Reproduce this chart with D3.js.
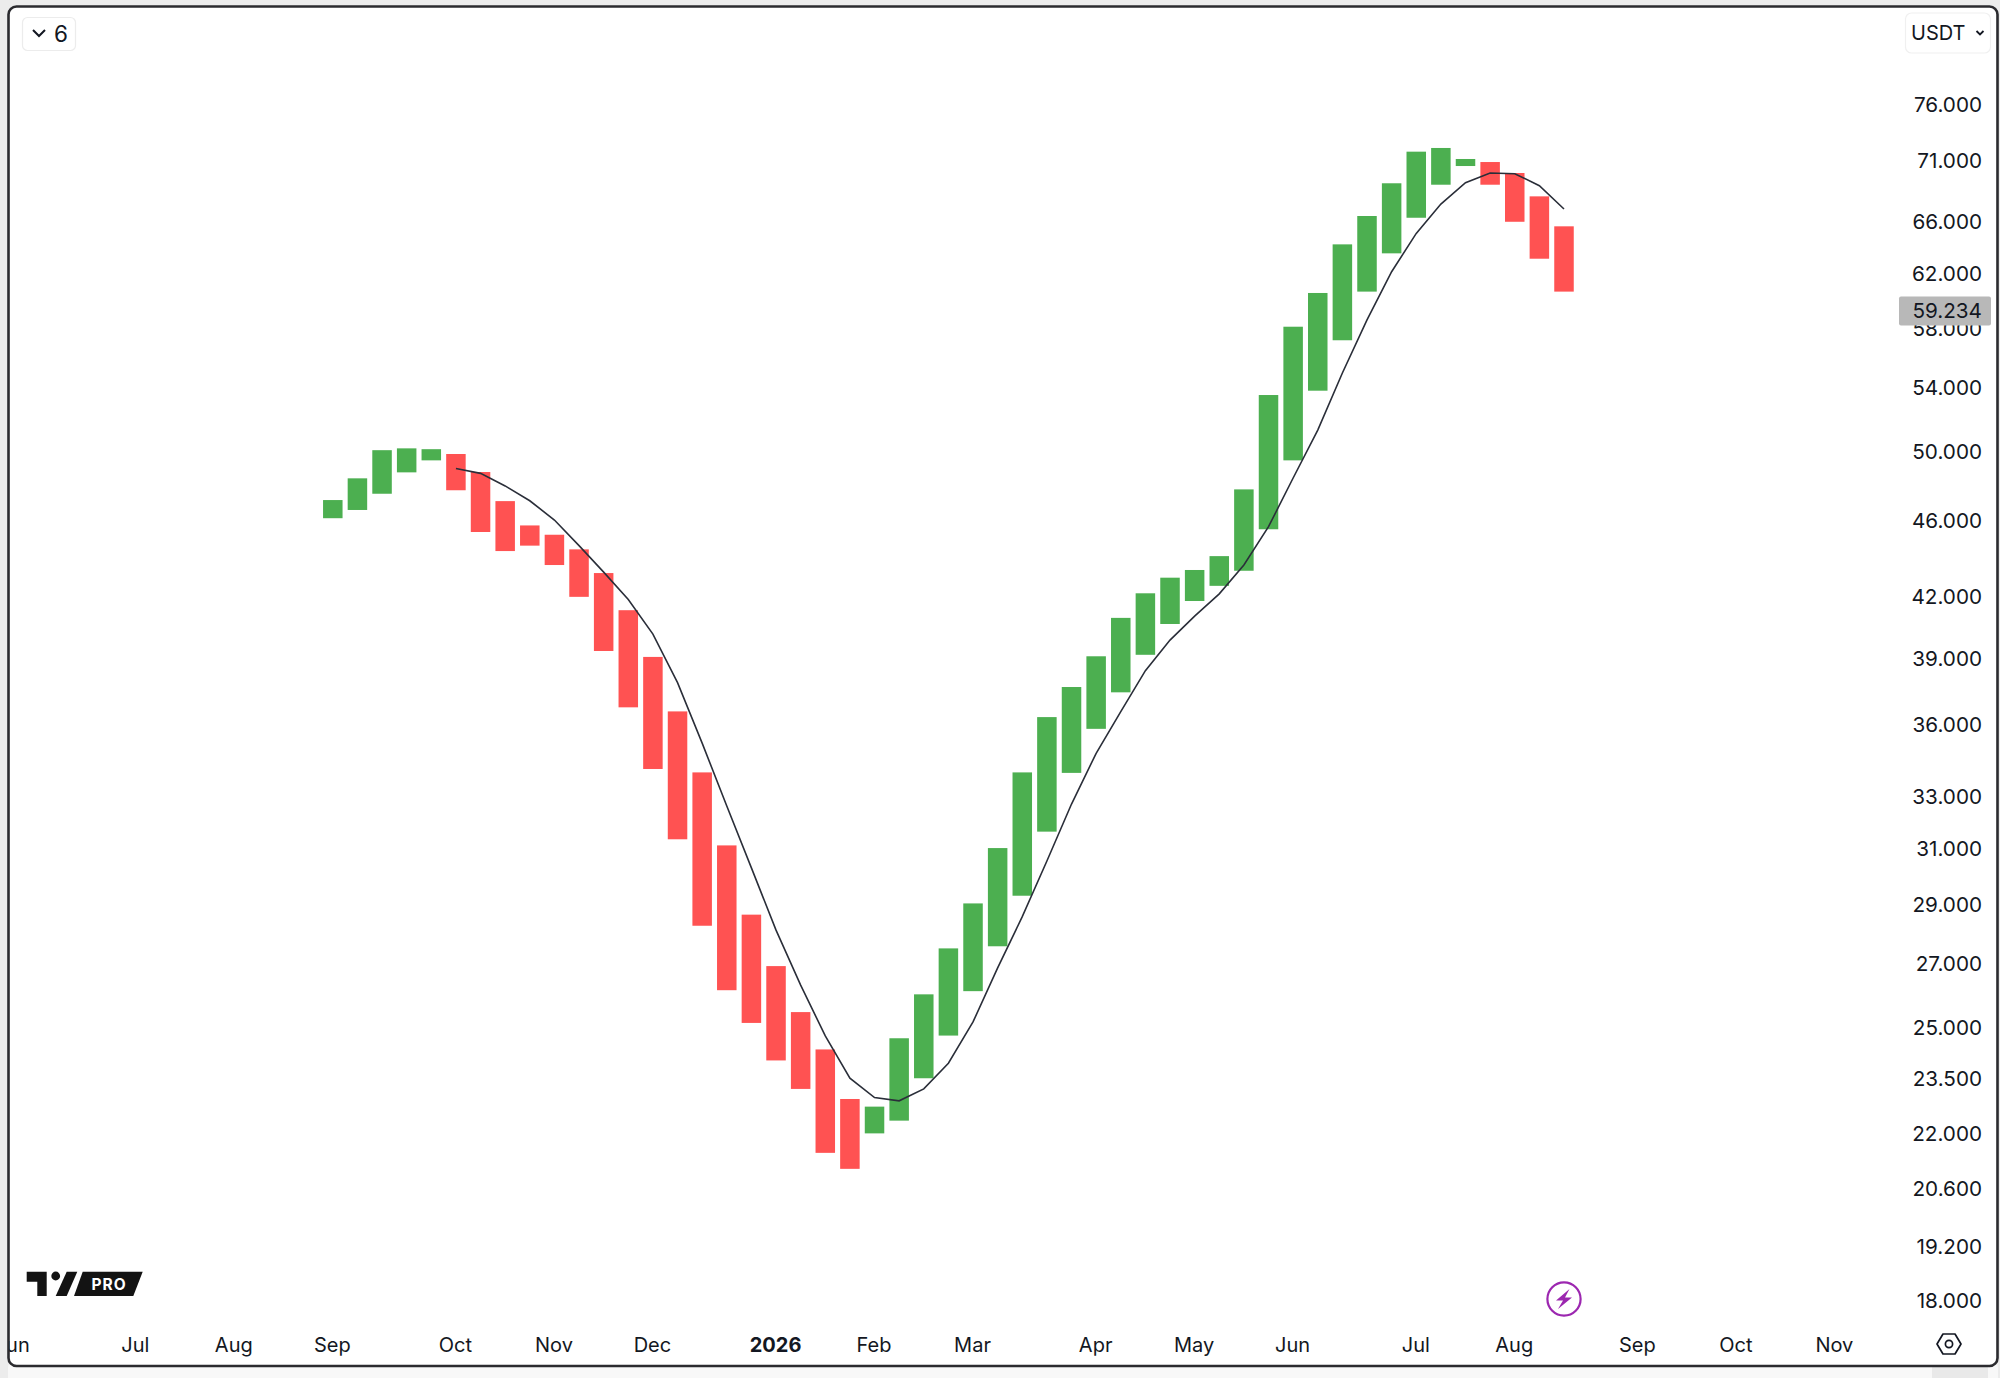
<!DOCTYPE html>
<html>
<head>
<meta charset="utf-8">
<title>Weekly chart</title>
<script src="https://cdn.jsdelivr.net/npm/d3@7/dist/d3.min.js"></script>
<style>
  html, body { margin: 0; padding: 0; background: #ececec; }
  svg { display: block; }
  text { font-family: Inter, "Noto Sans", sans-serif; fill: #131722; }
</style>
</head>
<body>
<div id="chart"></div>
<script>
// weekly bars, values
const firstWeek = "2025-09-01"
const lastWeek = "2026-08-17"

const opens = [
  46150, 46610, 47530, 48770, 49480, 49860, 48790, 47110, 45750, 45240,
  44450, 43200, 41310, 39050, 36570, 33980, 31120, 28630, 26910, 25460,
  24340, 22930, 22000, 22340, 23510, 24750, 26110, 27560, 29290, 31640,
  33960, 35810, 37420, 39150, 40630, 41770, 42540, 43320, 45540, 49480,
  53810, 57180, 60630, 63490, 66270, 68960, 70530, 70870, 69940, 68000,
  65590
]
const closes = [
  47170, 48420, 50090, 50200, 50150, 47730, 45390, 44360, 44650, 43620,
  41980, 39330, 36750, 34120, 31350, 28250, 26140, 25130, 24020, 23210,
  21490, 21080, 22720, 24670, 26010, 27490, 29020, 31020, 33980, 36320,
  37660, 39080, 40930, 42160, 42960, 43360, 44090, 47780, 53530, 58120,
  60530, 64180, 66410, 69080, 71760, 72080, 71130, 68960, 65950, 63080,
  60630
]
const maValues = [
  null, null, null, null, null, 49000, 48710, 47980, 47130, 46050,
  44650, 43250, 41850, 40140, 37860, 35200, 32630, 30290, 28100, 26300,
  24740, 23510, 22970, 22880, 23210, 23940, 25160, 26850, 28560, 30540,
  32710, 34770, 36560, 38410, 39850, 41020, 42130, 43620, 45680, 48440,
  51320, 54970, 58600, 62100, 65030, 67370, 69130, 69940, 69880, 68880,
  66970
]

const priceTicks = [
  76000, 71000, 66000, 62000, 58000, 54000, 50000, 46000, 42000, 39000, 36000,
  33000, 31000, 29000, 27000, 25000, 23500, 22000, 20600, 19200, 18000
]
const lastPrice = 59234

const monthDates = [
  "2025-06-02", "2025-07-07", "2025-08-04", "2025-09-01", "2025-10-06", "2025-11-03",
  "2025-12-01", "2026-01-05", "2026-02-02", "2026-03-02", "2026-04-06", "2026-05-04",
  "2026-06-01", "2026-07-06", "2026-08-03", "2026-09-07", "2026-10-05", "2026-11-02"
]
const monthLabels = [
  "Jun", "Jul", "Aug", "Sep", "Oct", "Nov", "Dec", "2026", "Feb", "Mar", "Apr", "May",
  "Jun", "Jul", "Aug", "Sep", "Oct", "Nov"
]

const upColor = "#4caf50"
const downColor = "#ff5252"
const ink = "#131722"

const width = 2000
const height = 1378
const barWidth = 19.5
const priceFontSize = 20.7

const parseDay = d3.utcParse("%Y-%m-%d")
const weeks = d3.utcMonday.range(parseDay(firstWeek), d3.utcDay.offset(parseDay(lastWeek), 1))
const ticksAsDates = monthDates.map(parseDay)

const x = d3.scaleUtc().domain([parseDay(firstWeek), parseDay(lastWeek)]).range([332.8, 1564])
const y = d3.scaleLog().domain([76000, 18000]).range([104, 1300])

const dotted = d3.formatLocale({ decimal: ",", thousands: ".", grouping: [3], currency: ["", ""] })
const priceFormat = dotted.format(",d")

const svg = d3
  .select("#chart")
  .append("svg")
  .attr("width", width)
  .attr("height", height)

svg.append("defs")
  .append("clipPath")
  .attr("id", "frame-clip")
  .append("rect")
  .attr("x", 8.5)
  .attr("y", 6)
  .attr("width", 1989)
  .attr("height", 1360)
  .attr("rx", 8)

// strip under the frame
svg.append("rect").attr("x", 8).attr("y", 1360).attr("width", 1990).attr("height", 30).attr("rx", 8).attr("fill", "#f8f8f8")
svg.append("rect").attr("x", 1932).attr("y", 1360).attr("width", 56).attr("height", 30).attr("rx", 8).attr("fill", "#e9e9e9")

svg.append("rect")
  .attr("x", 8.5)
  .attr("y", 6.5)
  .attr("width", 1989)
  .attr("height", 1359.5)
  .attr("rx", 8)
  .attr("fill", "#fff")

const plot = svg.append("g").attr("clip-path", "url(#frame-clip)")

plot.append("g")
  .attr("class", "bars")
  .selectAll("rect")
  .data(weeks)
  .join("rect")
  .attr("x", d => x(d) - barWidth / 2)
  .attr("y", (d, i) => y(Math.max(opens[i], closes[i])))
  .attr("width", barWidth)
  .attr("height", (d, i) => Math.abs(y(opens[i]) - y(closes[i])))
  .attr("fill", (d, i) => (closes[i] >= opens[i] ? upColor : downColor))

const maLine = d3.line()
  .defined((d, i) => maValues[i] !== null)
  .x(d => x(d))
  .y((d, i) => y(maValues[i]))

plot.append("path")
  .attr("d", maLine(weeks))
  .attr("fill", "none")
  .attr("stroke", "#2a2e39")
  .attr("stroke-width", 1.6)

// price axis
const priceAxis = plot.append("g")
  .attr("transform", "translate(1982,0)")
  .call(d3.axisLeft(y).tickValues(priceTicks).tickFormat(priceFormat).tickSize(0).tickPadding(0))
priceAxis.select(".domain").remove()
priceAxis.selectAll("text")
  .attr("font-size", priceFontSize)
  .attr("dy", "0.34em")
  .style("font-family", "Inter, sans-serif")
  .style("fill", ink)

// last price tag
const tag = plot.append("g")
tag.append("rect")
  .attr("x", 1899)
  .attr("y", y(lastPrice) - 14.5)
  .attr("width", 92)
  .attr("height", 29)
  .attr("rx", 2)
  .attr("fill", "#b8b8b8")
tag.append("text")
  .attr("x", 1982)
  .attr("y", y(lastPrice))
  .attr("dy", "0.34em")
  .attr("text-anchor", "end")
  .attr("font-size", priceFontSize)
  .text(priceFormat(lastPrice))

// time axis
const timeAxis = plot.append("g")
  .attr("transform", "translate(-1,1345)")
  .call(d3.axisBottom(x).tickValues(ticksAsDates).tickFormat((d, i) => monthLabels[i]).tickSize(0).tickPadding(0))
timeAxis.select(".domain").remove()
timeAxis.selectAll("text")
  .attr("font-size", 20)
  .attr("y", 0)
  .attr("dy", "0.36em")
  .attr("font-weight", (d, i) => (monthLabels[i] === "2026" ? 700 : 400))
  .style("font-family", "Inter, sans-serif")
  .style("fill", ink)

// frame goes on top of the clipped labels
svg.append("rect")
  .attr("x", 8.5)
  .attr("y", 6.5)
  .attr("width", 1989)
  .attr("height", 1359.5)
  .attr("rx", 8)
  .attr("fill", "none")
  .attr("stroke", "#2b2b2f")
  .attr("stroke-width", 2.6)

// interval button
const intervalBtn = svg.append("g")
intervalBtn.append("rect")
  .attr("x", 22.5).attr("y", 17.5).attr("width", 53).attr("height", 33).attr("rx", 5)
  .attr("fill", "#fff").attr("stroke", "#ececec").attr("stroke-width", 1.2)
intervalBtn.append("path")
  .attr("d", "M33,30 L39,36 L45,30")
  .attr("fill", "none").attr("stroke", ink).attr("stroke-width", 2)
intervalBtn.append("text")
  .attr("x", 61).attr("y", 34).attr("dy", "0.36em").attr("text-anchor", "middle")
  .attr("font-size", 22.5).text("6")

// currency button
const currencyBtn = svg.append("g")
currencyBtn.append("rect")
  .attr("x", 1905.5).attr("y", 13).attr("width", 85).attr("height", 40).attr("rx", 6)
  .attr("fill", "#fff").attr("stroke", "#f0f0f0").attr("stroke-width", 1.2)
currencyBtn.append("text")
  .attr("x", 1911).attr("y", 33).attr("dy", "0.36em")
  .attr("font-size", 20).text("USDT")
currencyBtn.append("path")
  .attr("d", "M1976.5,31 L1980,34.5 L1983.5,31")
  .attr("fill", "none").attr("stroke", ink).attr("stroke-width", 1.8)

// logo
const logo = svg.append("g").attr("fill", "#131313")
logo.append("path").attr("d", "M26.7,1271.7 H46.7 V1296 H37.3 V1281.7 H26.7 Z")
logo.append("circle").attr("cx", 55.7).attr("cy", 1276).attr("r", 4.4)
logo.append("path").attr("d", "M66.7,1271.7 H77.3 L66.7,1296 H55.7 Z")
logo.append("path").attr("d", "M82.7,1271.7 H142.7 L133.3,1296 H74 Z")
logo.append("text")
  .attr("x", 109).attr("y", 1284).attr("dy", "0.36em").attr("text-anchor", "middle")
  .attr("font-size", 15.5).attr("font-weight", 700).attr("letter-spacing", 1)
  .style("fill", "#fff").text("PRO")

// bolt badge
const bolt = svg.append("g").attr("transform", "translate(1564,1299)")
bolt.append("circle").attr("r", 16.6).attr("fill", "none").attr("stroke", "#9c27b0").attr("stroke-width", 2.2)
bolt.append("path").attr("d", "M5.5,-10 L-8,1.5 H-1 L-6,10 L8,-1.5 H1 Z").attr("fill", "#9c27b0")

// settings nut
const nut = svg.append("g").attr("transform", "translate(1949,1344)")
nut.append("path")
  .attr("d", "M-12,0 L-6,-10 H6 L12,0 L6,10 H-6 Z")
  .attr("fill", "none").attr("stroke", ink).attr("stroke-width", 1.7).attr("stroke-linejoin", "round")
nut.append("circle").attr("r", 3.6).attr("fill", "none").attr("stroke", ink).attr("stroke-width", 1.7)
</script>
</body>
</html>
